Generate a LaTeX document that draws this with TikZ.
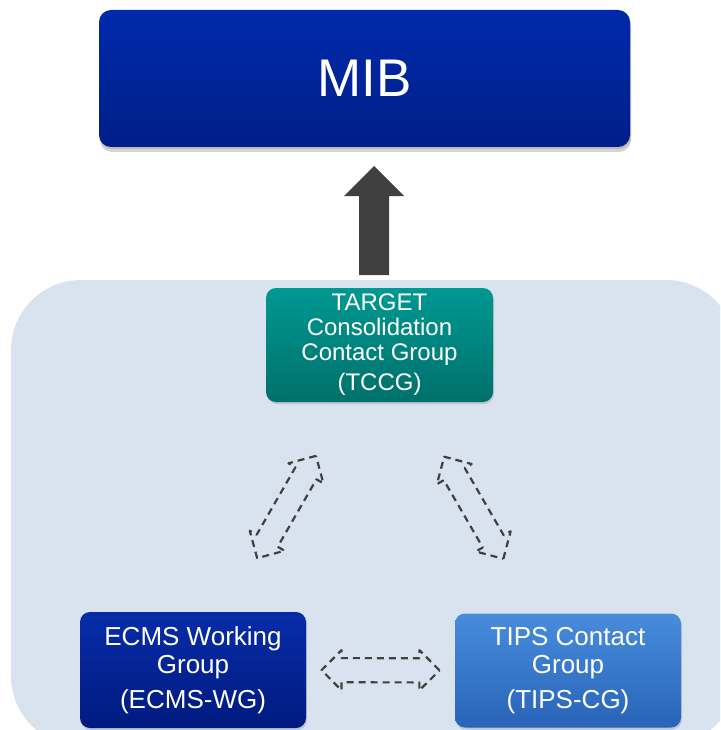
\documentclass[tikz,border=0pt]{standalone}
\usepackage{fontspec}
\setmainfont{Liberation Sans}
\usepackage{tikz}
\usetikzlibrary{arrows.meta, calc, shadows, shapes.arrows, positioning}
\definecolor{panelBlue}{RGB}{217,227,240}
\definecolor{mibTop}{RGB}{0,42,172}
\definecolor{mibBottom}{RGB}{0,30,136}
\definecolor{tccgTop}{RGB}{0,152,146}
\definecolor{tccgBottom}{RGB}{0,112,106}
\definecolor{ecmsTop}{RGB}{8,44,168}
\definecolor{ecmsBottom}{RGB}{0,26,128}
\definecolor{tipsTop}{RGB}{72,140,220}
\definecolor{tipsBottom}{RGB}{40,100,184}
\definecolor{arrowGrey}{RGB}{64,64,64}
\tikzset{
  groupbox/.style={rounded corners=10pt, text=white, align=center, inner sep=0pt,
    font=\fontsize{26}{28}\selectfont, minimum width=226pt, minimum height=115pt,
    drop shadow={shadow xshift=1pt, shadow yshift=-2pt, opacity=0.3}},
  link/.style={double arrow, draw=arrowGrey, line width=2.2pt, dash pattern=on 7pt off 5pt,
    double arrow head extend=8pt, double arrow tip angle=90, inner xsep=0pt, inner ysep=11pt,
    minimum height=118pt}
}

\begin{document}
\begin{tikzpicture}[x=1pt, y=-1pt, line join=round]

  \useasboundingbox (0,0) rectangle (720,730);
  \begin{scope}
    \clip (0,0) rectangle (720,730);
    \fill[panelBlue, rounded corners=70pt] (11,280) rectangle (736,746);
  \end{scope}

  \node[groupbox, minimum width=531pt, minimum height=137pt, rounded corners=12pt,
    top color=mibTop, bottom color=mibBottom, font=\fontsize{53}{57}\selectfont,
    drop shadow={shadow xshift=1pt, shadow yshift=-5pt, opacity=0.35}] (mib) at (364.5,78.5) {MIB};
  \node[groupbox, minimum width=227pt, minimum height=114pt, top color=tccgTop, bottom color=tccgBottom,
    font=\fontsize{24}{25}\selectfont]
    (tccg) at (379.5,345) {TARGET\\Consolidation\\Contact Group\\[5pt](TCCG)};
  \node[groupbox, minimum height=116pt, top color=ecmsTop, bottom color=ecmsBottom]
    (ecms) at (193,670) {ECMS Working\\Group\\[7pt](ECMS-WG)};
  \node[groupbox, minimum height=114pt, top color=tipsTop, bottom color=tipsBottom]
    (tips) at (568,670.5) {TIPS Contact\\Group\\[7pt](TIPS-CG)};

  % block arrow up to MIB
  \coordinate (tail) at (374,275);
  \coordinate (tip) at (374,166);
  \fill[arrowGrey] (tail) ++(-15,0) -- ++(0,-79) -- ++(-15,0) -- (tip) -- ++(30,30) -- ++(-15,0) -- ++(0,79) -- cycle;

  \path (ecms) -- (tccg) node[midway, sloped, link] {};
  \path (tccg) -- (tips) node[midway, sloped, link] {};
  \path (ecms) -- (tips) node[midway, sloped, link] {};

\end{tikzpicture}
\end{document}
